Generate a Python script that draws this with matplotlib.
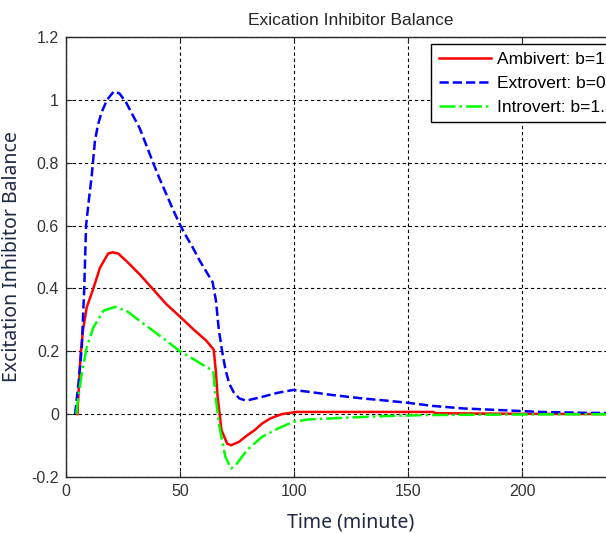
import numpy as np
import matplotlib
matplotlib.use("Agg")
import matplotlib.pyplot as plt

# --- data ---
t_ambi = [5, 6.4, 7.5, 9.1, 12, 14.9, 18.5, 20.5, 22.9, 26.5, 32.3, 38.2, 44, 49.6,
          55.7, 61.5, 64.8, 65.8, 66.5, 68.2, 70.7, 72.4, 75.9, 79, 82.7, 86, 89.5,
          94.6, 101, 130, 161, 162, 200, 250]
ambivert = [0, 0.19, 0.27, 0.34, 0.40, 0.466, 0.511, 0.515, 0.511, 0.487, 0.445, 0.397,
            0.35, 0.313, 0.271, 0.234, 0.205, 0.13, 0.055, -0.051, -0.094, -0.099,
            -0.088, -0.07, -0.051, -0.03, -0.014, 0.0, 0.007, 0.007, 0.007, 0.003,
            0.001, 0.0]

t_extro = [4, 5.5, 6.9, 8, 8.8, 10, 11.3, 12.7, 14, 15.6, 18, 21, 23.5, 26.5, 29, 32.3,
           35, 38.2, 41, 44, 47, 49.5, 52, 55.6, 58.5, 61.4, 64.3, 65.8, 67, 68.7, 70,
           71.6, 73.5, 76, 79, 82, 86, 92.9, 99.7, 106.5, 116.7, 130, 140.5, 150, 161,
           174.5, 190, 208.5, 229, 250]
extrovert = [0, 0.1, 0.21, 0.4, 0.6, 0.68, 0.76, 0.87, 0.92, 0.96, 1.0, 1.027, 1.02,
             0.99, 0.955, 0.91, 0.86, 0.80, 0.75, 0.70, 0.65, 0.61, 0.575, 0.53, 0.49,
             0.455, 0.42, 0.36, 0.27, 0.19, 0.14, 0.097, 0.07, 0.05, 0.043, 0.048,
             0.055, 0.068, 0.077, 0.071, 0.061, 0.05, 0.043, 0.036, 0.026, 0.018,
             0.013, 0.007, 0.004, 0.003]

t_intro = [4.5, 5.5, 6.9, 9.1, 12, 16.4, 21.5, 26.5, 32.3, 38.2, 44, 49.6, 55.7, 61.5,
           64.6, 65.6, 67.3, 69.9, 72.4, 75, 79.3, 86, 92.9, 99.7, 106.5, 123.5, 140.5,
           157.5, 200, 250]
introvert = [0, 0.06, 0.128, 0.213, 0.276, 0.329, 0.341, 0.329, 0.297, 0.265, 0.234,
             0.202, 0.176, 0.15, 0.138, 0.055, -0.04, -0.136, -0.173, -0.157, -0.115,
             -0.072, -0.046, -0.024, -0.017, -0.011, -0.006, -0.003, -0.001, 0]

labels = ["Ambivert: b=1", "Extrovert: b=0.5", "Introvert: b=1.5"]
x_ticks = [0, 50, 100, 150, 200]
y_ticks = [-0.2, 0, 0.2, 0.4, 0.6, 0.8, 1, 1.2]
y_ticklabels = ["-0.2", "0", "0.2", "0.4", "0.6", "0.8", "1", "1.2"]

W, H = 606, 533
fig = plt.figure(figsize=(W / 100, H / 100), dpi=100)
# axes extends past the right edge, like the cropped original
ax = fig.add_axes([66 / W, 56 / H, 570 / W, 440 / H])

ax.plot(t_ambi, ambivert, color="#ff0000", lw=1.8, ls="-", label=labels[0])
ax.plot(t_extro, extrovert, color="#0000ff", lw=1.8, ls="--", label=labels[1])
ax.plot(t_intro, introvert, color="#00ff00", lw=1.8, ls="-.", label=labels[2])

ax.set_xlim(0, 250)
ax.set_ylim(-0.2, 1.2)
ax.set_xticks(x_ticks)
ax.set_yticks(y_ticks)
ax.set_yticklabels(y_ticklabels)

ax.grid(True, color="black", lw=0.8, linestyle=(0, (3, 2.5)))
ax.tick_params(direction="in", length=4, width=0.8, top=True, right=True,
               labelsize=11.5, colors="#262626", labelcolor="#333333", pad=5)
for lab in ax.get_xticklabels() + ax.get_yticklabels():
    lab.set_fontfamily("Liberation Sans")
for s in ax.spines.values():
    s.set_color("#262626")
    s.set_linewidth(1.0)

ax.set_title("Exication Inhibitor Balance", fontsize=12.5, family="Liberation Sans",
             color="#262626", pad=9)
ax.set_xlabel("Time (minute)", fontsize=14, family="Noto Sans", color="#1f2a44",
              labelpad=10)
ax.set_ylabel("Excitation Inhibitor Balance", fontsize=14, family="Noto Sans",
              color="#1f2a44", labelpad=7)

leg = ax.legend(loc="upper left", bbox_to_anchor=(431 / W, 1 - 44 / H),
                bbox_transform=fig.transFigure, borderaxespad=0, fancybox=False,
                framealpha=1, edgecolor="black", handlelength=3.0, handletextpad=0.35,
                borderpad=0.45, labelspacing=0.5, prop={"family": "Liberation Sans",
                                                         "size": 12.5})
leg.get_frame().set_linewidth(1.0)

fig.savefig("out.png", dpi=100)
